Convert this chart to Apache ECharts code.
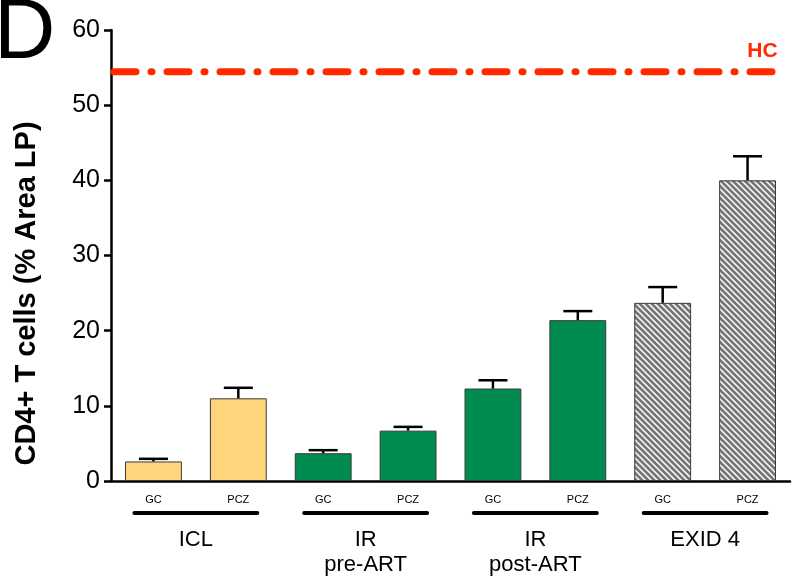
<!DOCTYPE html>
<html>
<head>
<meta charset="utf-8">
<script src="https://cdn.jsdelivr.net/npm/echarts@6/dist/echarts.min.js"></script>
<style>html,body{margin:0;padding:0;background:#fff;}#c{width:794px;height:577px;}</style>
</head>
<body>
<div id="c"></div>
<script>
var categories = ['GC', 'PCZ', 'GC', 'PCZ', 'GC', 'PCZ', 'GC', 'PCZ'];
var groupNames = ['ICL', 'IR\npre-ART', 'IR\npost-ART', 'EXID 4'];
var means = [2.6, 11.0, 3.7, 6.7, 12.3, 21.4, 23.7, 40.0];
var errUpper = [2.95, 12.4, 4.1, 7.2, 13.4, 22.6, 25.8, 43.2];
var barKinds = ['icl', 'icl', 'ir', 'ir', 'ir', 'ir', 'exid', 'exid'];
var hcValue = 54.45;
var hcLabel = 'HC';
var yTicks = [0, 10, 20, 30, 40, 50, 60];

function hatch() {
  var c = document.createElement('canvas');
  var s = 6;
  c.width = s; c.height = s;
  var g = c.getContext('2d');
  g.fillStyle = '#ffffff';
  g.fillRect(0, 0, s, s);
  g.strokeStyle = '#777777';
  g.lineWidth = 2.8;
  g.beginPath();
  for (var k = -2; k <= 2; k++) {
    g.moveTo(k * s - 1, -1);
    g.lineTo(k * s + s + 1, s + 1);
  }
  g.stroke();
  return c;
}
var hatchCanvas = hatch();
var fills = { icl: '#FED57A', ir: '#008C50', exid: { image: hatchCanvas, repeat: 'repeat' } };

var barData = means.map(function (v, i) {
  return { value: v, itemStyle: { color: fills[barKinds[i]] } };
});
var errData = means.map(function (v, i) { return [i, v, errUpper[i]]; });
var groupData = groupNames.map(function (n, g) { return [g * 2, g * 2 + 1, n]; });

var chart = echarts.init(document.getElementById('c'), null, { renderer: 'canvas' });
chart.setOption({
  animation: false,
  backgroundColor: '#ffffff',
  textStyle: { fontFamily: 'Liberation Sans, Arial, sans-serif' },
  graphic: [{
    type: 'text', left: -6, top: -8, silent: true,
    style: { text: 'D', fontSize: 85, fill: '#000', fontFamily: 'Liberation Sans, Arial, sans-serif' }
  }],
  grid: { left: 111, right: 4, top: 30, bottom: 96, containLabel: false },
  xAxis: {
    type: 'category',
    data: categories,
    boundaryGap: true,
    axisLine: { lineStyle: { color: '#000', width: 2.5 } },
    axisTick: { alignWithLabel: true, length: 6, lineStyle: { color: '#000', width: 2.5 } },
    axisLabel: { fontSize: 11, color: '#000', margin: 13, interval: 0 }
  },
  yAxis: {
    type: 'value',
    min: 0, max: 60, interval: 10,
    name: 'CD4+ T cells (% Area LP)',
    nameLocation: 'middle',
    nameGap: 70,
    nameTextStyle: { fontSize: 29, fontWeight: 'bold', color: '#000', padding: [0, 76, 0, 0] },
    axisLine: { show: true, lineStyle: { color: '#000', width: 2.5 } },
    axisTick: { show: true, length: 7, lineStyle: { color: '#000', width: 2.5 } },
    axisLabel: { fontSize: 25, color: '#000', margin: 11 },
    splitLine: { show: false }
  },
  series: [
    {
      type: 'bar',
      data: barData,
      barWidth: '67%',
      itemStyle: { borderColor: '#3a3a3a', borderWidth: 1 },
      z: 2
    },
    {
      type: 'custom',
      data: errData,
      z: 3,
      renderItem: function (params, api) {
        var x = api.value(0);
        var top = api.coord([x, api.value(1)]);
        var hi = api.coord([x, api.value(2)]);
        var hw = 14.5;
        return {
          type: 'group',
          children: [
            { type: 'line', shape: { x1: top[0], y1: top[1], x2: hi[0], y2: hi[1] }, style: { stroke: '#000', lineWidth: 2.5 } },
            { type: 'line', shape: { x1: hi[0] - hw, y1: hi[1], x2: hi[0] + hw, y2: hi[1] }, style: { stroke: '#000', lineWidth: 2.5 } }
          ]
        };
      }
    },
    {
      type: 'custom',
      data: [[0, hcValue]],
      clip: false,
      z: 4,
      renderItem: function (params, api) {
        var v = api.value(1);
        var p0 = api.coord([0, v]);
        var p1 = api.coord([categories.length - 1, v]);
        var half = api.size([1, 0])[0] / 2;
        var x0 = p0[0] - half + 3;
        var x1 = p1[0] + 31;
        return {
          type: 'group',
          children: [
            { type: 'line', shape: { x1: x0, y1: p0[1], x2: x1, y2: p0[1] }, style: { stroke: '#FF2A00', lineWidth: 7, lineDash: [22, 15, 1, 15], lineCap: 'round' } },
            { type: 'text', style: { text: hcLabel, x: x1 - 1, y: p0[1] - 10, textAlign: 'right', textVerticalAlign: 'bottom', fontSize: 21, fontWeight: 'bold', fill: '#FF2A00', fontFamily: 'Liberation Sans, Arial, sans-serif' } }
          ]
        };
      }
    },
    {
      type: 'custom',
      data: groupData,
      clip: false,
      z: 3,
      renderItem: function (params, api) {
        var a = api.coord([api.value(0), 0]);
        var b = api.coord([api.value(1), 0]);
        var y = a[1] + 32;
        return {
          type: 'group',
          children: [
            { type: 'line', shape: { x1: a[0] - 19, y1: y, x2: b[0] + 19, y2: y }, style: { stroke: '#000', lineWidth: 4, lineCap: 'round' } },
            { type: 'text', style: { text: groupNames[params.dataIndex], x: (a[0] + b[0]) / 2, y: y + 14, textAlign: 'center', textVerticalAlign: 'top', fontSize: 22, lineHeight: 25, fill: '#000', fontFamily: 'Liberation Sans, Arial, sans-serif' } }
          ]
        };
      }
    }
  ]
});
</script>
</body>
</html>
